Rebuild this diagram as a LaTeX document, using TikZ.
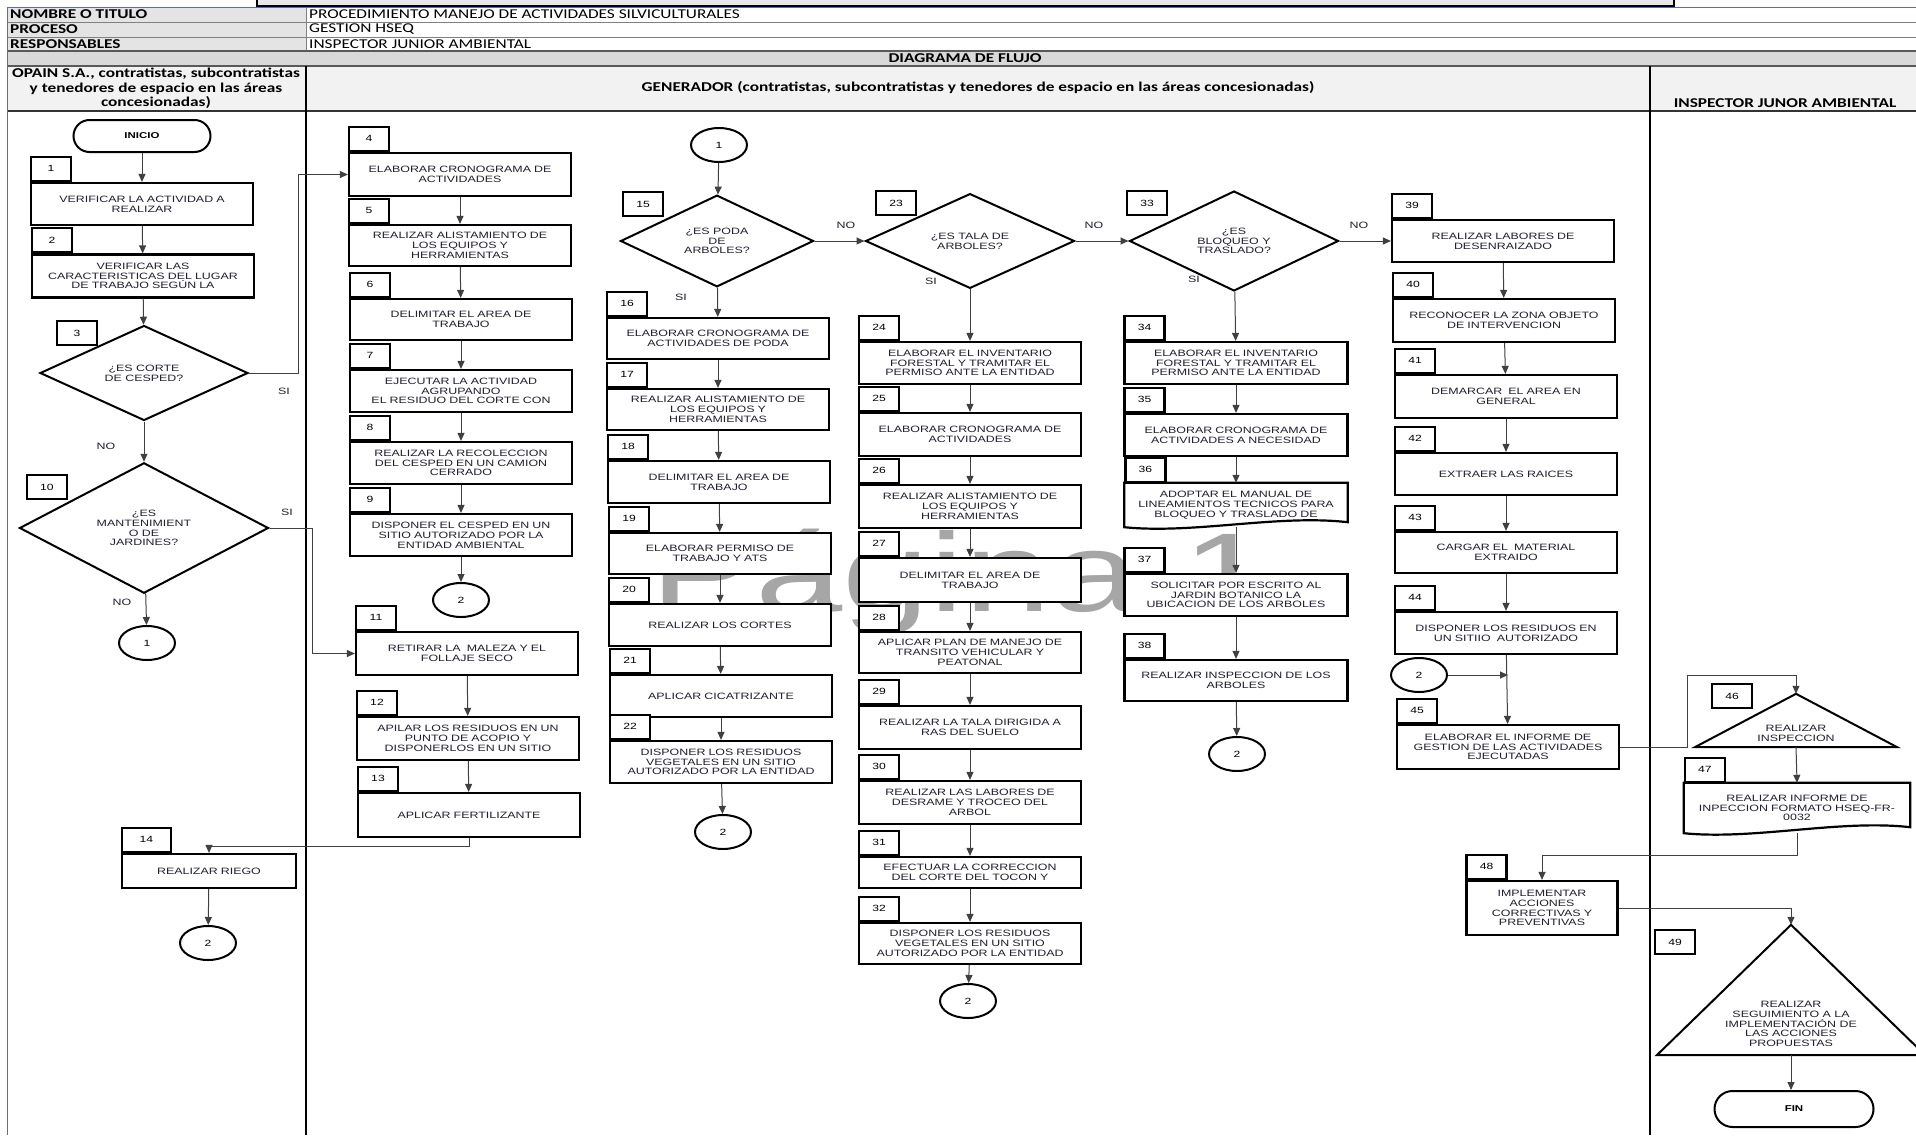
\documentclass[tikz,border=0pt]{standalone}
\usepackage{fontspec}
\setmainfont{Liberation Sans}
\newfontfamily\boxfont[FakeStretch=1.35]{Liberation Sans}
\newfontfamily\headfont[FakeStretch=1.28]{Carlito}
\newfontfamily\markfont[FakeStretch=1.4]{Liberation Sans}
\usetikzlibrary{shapes.geometric,arrows.meta,positioning,calc,backgrounds}
\definecolor{HeadGray}{HTML}{D9D9D9}
\definecolor{CellGray}{HTML}{E4E4E4}
\definecolor{LaneGray}{HTML}{F2F2F2}
\definecolor{EdgeBlue}{HTML}{5B63D6}
\definecolor{InkDark}{HTML}{202030}
\definecolor{MarkGray}{HTML}{A6A6A6}

\begin{document}
\begin{tikzpicture}[x=1pt,y=-1pt,
  stepbox/.style={rectangle,draw=black,line width=2.2pt,fill=white,
    minimum width=222,minimum height=42,inner sep=1pt,text width=218pt,
    align=center,text=InkDark,font=\boxfont\fontsize{9.2}{9.8}\selectfont},
  docbox/.style={rectangle,minimum width=223,minimum height=44,inner sep=1pt,
    text width=218pt,align=center,text=InkDark,
    font=\boxfont\fontsize{9.2}{9.8}\selectfont},
  numtab/.style={rectangle,draw=black,line width=2.2pt,fill=white,
    minimum width=40,minimum height=24,inner sep=0pt,
    font=\boxfont\fontsize{9}{9.8}\selectfont},
  ask/.style={diamond,draw=black,line width=2pt,fill=white,inner sep=0pt,
    align=center,text=InkDark,font=\boxfont\fontsize{9.2}{9.8}\selectfont},
  link/.style={ellipse,draw=black,line width=2pt,fill=white,minimum width=56,
    minimum height=34,inner sep=0pt,font=\boxfont\fontsize{9}{9.8}\selectfont},
  term/.style={rectangle,rounded corners=16pt,draw=black,line width=2pt,
    fill=white,minimum width=137,minimum height=32,
    font=\boxfont\bfseries\fontsize{8.5}{9}\selectfont},
  flag/.style={rectangle,inner sep=0pt},
  ans/.style={inner sep=1pt,text=InkDark,align=center,
    font=\boxfont\fontsize{9.2}{9.8}\selectfont},
  headlbl/.style={inner sep=0pt,align=center,
    font=\headfont\bfseries\fontsize{13.5}{14.5}\selectfont},
  headval/.style={inner sep=0pt,font=\headfont\fontsize{13.5}{14.5}\selectfont},
  arr/.style={-{Triangle[length=8pt,width=7pt]},line width=1pt,black!75}]
\useasboundingbox (0,0) rectangle (1916,1135);
\begin{scope}[on background layer]
\fill[white] (0,0) rectangle (1916,1135);
\node[text=MarkGray,inner sep=0pt,anchor=base,
  font=\markfont\fontsize{112}{112}\selectfont] (wm) at (960,611) {Página 1};
\end{scope}

% header
\filldraw[fill=black!9,line width=1.2pt] (257,-10) rectangle (1674,6);
\fill[CellGray] (7,7) rectangle (306,51);
\fill[HeadGray] (7,51) rectangle (1916,66);
\fill[LaneGray] (7,66) rectangle (1916,111);
\draw[black!50,line width=1pt] (7,22) -- (1916,22) (7,37) -- (1916,37) (306,7) -- (306,51);
\draw[black!65,line width=1.2pt] (7,51) -- (1916,51) (7,66) -- (1916,66);
\draw[black!80,line width=2pt] (7,111) -- (1916,111);
\draw[EdgeBlue,line width=1pt] (7,7) -- (1916,7) (7,7) -- (7,1135);
\draw[line width=2pt] (306,66) -- (306,1135) (1650,66) -- (1650,1135);
\node[headlbl,anchor=west] (hNombre) at (10,14.5) {NOMBRE O TITULO};
\node[headval,anchor=west] (vNombre) at (309,14.5) {PROCEDIMIENTO MANEJO DE ACTIVIDADES SILVICULTURALES};
\node[headlbl,anchor=west] (hProceso) at (10,29.5) {PROCESO};
\node[headval,anchor=west] (vProceso) at (309,29.5) {GESTION HSEQ};
\node[headlbl,anchor=west] (hResp) at (10,44) {RESPONSABLES};
\node[headval,anchor=west] (vResp) at (309,44) {INSPECTOR JUNIOR AMBIENTAL};
\node[headlbl] (hDiagrama) at (965,58.5) {DIAGRAMA DE FLUJO};
\node[headlbl] (hOpain) at (156,88.5) {OPAIN S.A., contratistas, subcontratistas\\
  y tenedores de espacio en las áreas\\concesionadas)};
\node[headlbl] (hGenerador) at (978,88) {GENERADOR (contratistas, subcontratistas y tenedores de espacio en las áreas concesionadas)};
\node[headlbl] (hInspector) at (1785,103) {INSPECTOR JUNOR AMBIENTAL};

% lane 1
\node[term] (inicio) at (142,136) {INICIO};
\node[stepbox] (b1) at (142,204) {VERIFICAR LA ACTIVIDAD A\\REALIZAR};
\node[numtab,anchor=south west] (n1) at (b1.north west) {1};
\node[stepbox,minimum height=43] (b2) at (143,276) {VERIFICAR LAS\\CARACTERISTICAS DEL LUGAR\\DE TRABAJO SEGÚN LA};
\node[numtab,anchor=south west] (n2) at (b2.north west) {2};
\node[ask,minimum width=208,minimum height=93] (d3) at (144,373) {¿ES CORTE\\DE CESPED?};
\node[numtab] (n3) at (77,333) {3};
\node[ask,minimum width=249,minimum height=97] (d10) at (144,528) {¿ES\\MANTENIMIENT\\O DE\\JARDINES?};
\node[numtab] (n10) at (47,487) {10};
\node[link] (c1a) at (147,643) {1};
\node[stepbox,minimum width=174,minimum height=34,text width=168pt] (b14) at (209,871) {REALIZAR RIEGO};
\node[numtab,minimum width=49,anchor=south west] (n14) at (b14.north west) {14};
\node[link] (c2a) at (208,943) {2};
\node[ans] (si3) at (284,391) {SI};
\node[ans] (no3) at (106,446) {NO};
\node[ans] (si10) at (287,512) {SI};
\node[ans] (no10) at (122,602) {NO};

% lane 2, corte de cesped y jardines
\node[stepbox,minimum height=43] (b4) at (460,174.5) {ELABORAR CRONOGRAMA DE\\ACTIVIDADES};
\node[numtab,anchor=south west] (n4) at (b4.north west) {4};
\node[stepbox,minimum height=41] (b5) at (460,245.5) {REALIZAR ALISTAMIENTO DE\\LOS EQUIPOS Y\\HERRAMIENTAS};
\node[numtab,anchor=south west] (n5) at (b5.north west) {5};
\node[stepbox,minimum height=41] (b6) at (461,319.5) {DELIMITAR EL AREA DE\\TRABAJO};
\node[numtab,anchor=south west] (n6) at (b6.north west) {6};
\node[stepbox] (b7) at (461,391) {EJECUTAR LA ACTIVIDAD\\AGRUPANDO\\EL RESIDUO DEL CORTE CON};
\node[numtab,anchor=south west] (n7) at (b7.north west) {7};
\node[stepbox] (b8) at (461,463) {REALIZAR LA RECOLECCION\\DEL CESPED EN UN CAMION\\CERRADO};
\node[numtab,anchor=south west] (n8) at (b8.north west) {8};
\node[stepbox] (b9) at (461,535) {DISPONER EL CESPED EN UN\\SITIO AUTORIZADO POR LA\\ENTIDAD AMBIENTAL};
\node[numtab,anchor=south west] (n9) at (b9.north west) {9};
\node[link] (c2b) at (461,600) {2};
\node[stepbox,minimum height=43] (b11) at (467,653.5) {RETIRAR LA\ \ MALEZA Y EL\\FOLLAJE SECO};
\node[numtab,anchor=south west] (n11) at (b11.north west) {11};
\node[stepbox,minimum height=43] (b12) at (468,738.5) {APILAR LOS RESIDUOS EN UN\\PUNTO DE ACOPIO Y\\DISPONERLOS EN UN SITIO};
\node[numtab,anchor=south west] (n12) at (b12.north west) {12};
\node[stepbox,minimum height=44] (b13) at (469,815) {APLICAR FERTILIZANTE};
\node[numtab,anchor=south west] (n13) at (b13.north west) {13};

% lane 2, poda
\node[link] (c1b) at (719,145) {1};
\node[ask,minimum width=193,minimum height=90] (d15) at (717,241) {¿ES PODA\\DE\\ARBOLES?};
\node[numtab] (n15) at (643,204) {15};
\node[stepbox,minimum height=41] (b16) at (718,338.5) {ELABORAR CRONOGRAMA DE\\ACTIVIDADES DE PODA};
\node[numtab,anchor=south west] (n16) at (b16.north west) {16};
\node[stepbox,minimum height=41] (b17) at (718,409.5) {REALIZAR ALISTAMIENTO DE\\LOS EQUIPOS Y\\HERRAMIENTAS};
\node[numtab,anchor=south west] (n17) at (b17.north west) {17};
\node[stepbox] (b18) at (719,482) {DELIMITAR EL AREA DE\\TRABAJO};
\node[numtab,anchor=south west] (n18) at (b18.north west) {18};
\node[stepbox,minimum height=41] (b19) at (720,553.5) {ELABORAR PERMISO DE\\TRABAJO Y ATS};
\node[numtab,anchor=south west] (n19) at (b19.north west) {19};
\node[stepbox] (b20) at (720,625) {REALIZAR LOS CORTES};
\node[numtab,anchor=south west] (n20) at (b20.north west) {20};
\node[stepbox] (b21) at (721,696) {APLICAR CICATRIZANTE};
\node[numtab,anchor=south west] (n21) at (b21.north west) {21};
\node[stepbox] (b22) at (721,762) {DISPONER LOS RESIDUOS\\VEGETALES EN UN SITIO\\AUTORIZADO POR LA ENTIDAD};
\node[numtab,anchor=south west] (n22) at (b22.north west) {22};
\node[link] (c2c) at (723,832) {2};
\node[ans] (no15) at (846,225) {NO};
\node[ans] (si15) at (681,297) {SI};

% lane 2, tala
\node[ask,minimum width=209,minimum height=94] (d23) at (970,241) {¿ES TALA DE\\ARBOLES?};
\node[numtab] (n23) at (896,203) {23};
\node[stepbox] (b24) at (970,363) {ELABORAR EL INVENTARIO\\FORESTAL Y TRAMITAR EL\\PERMISO ANTE LA ENTIDAD};
\node[numtab,anchor=south west] (n24) at (b24.north west) {24};
\node[stepbox,minimum height=43] (b25) at (970,434.5) {ELABORAR CRONOGRAMA DE\\ACTIVIDADES};
\node[numtab,anchor=south west] (n25) at (b25.north west) {25};
\node[stepbox,minimum height=43] (b26) at (970,506.5) {REALIZAR ALISTAMIENTO DE\\LOS EQUIPOS Y\\HERRAMIENTAS};
\node[numtab,anchor=south west] (n26) at (b26.north west) {26};
\node[stepbox,minimum height=44] (b27) at (970,580) {DELIMITAR EL AREA DE\\TRABAJO};
\node[numtab,anchor=south west] (n27) at (b27.north west) {27};
\node[stepbox,minimum height=41] (b28) at (970,652.5) {APLICAR PLAN DE MANEJO DE\\TRANSITO VEHICULAR Y\\PEATONAL};
\node[numtab,anchor=south west] (n28) at (b28.north west) {28};
\node[stepbox,minimum height=43] (b29) at (970,727.5) {REALIZAR LA TALA DIRIGIDA A\\RAS DEL SUELO};
\node[numtab,anchor=south west] (n29) at (b29.north west) {29};
\node[stepbox,minimum height=43] (b30) at (970,802.5) {REALIZAR LAS LABORES DE\\DESRAME Y TROCEO DEL\\ARBOL};
\node[numtab,anchor=south west] (n30) at (b30.north west) {30};
\node[stepbox,minimum height=31] (b31) at (970,872.5) {EFECTUAR LA CORRECCION\\DEL CORTE DEL TOCON Y};
\node[numtab,anchor=south west] (n31) at (b31.north west) {31};
\node[stepbox,minimum height=41] (b32) at (970,943.5) {DISPONER LOS RESIDUOS\\VEGETALES EN UN SITIO\\AUTORIZADO POR LA ENTIDAD};
\node[numtab,anchor=south west] (n32) at (b32.north west) {32};
\node[link] (c2d) at (968,1001) {2};
\node[ans] (si23) at (931,281) {SI};
\node[ans] (no23) at (1094,225) {NO};

% lane 2, bloqueo y traslado
\node[ask,minimum width=209,minimum height=89] (d33) at (1234,241) {¿ES\\BLOQUEO Y\\TRASLADO?};
\node[numtab] (n33) at (1147,203) {33};
\node[stepbox,minimum width=223] (b34) at (1236,363) {ELABORAR EL INVENTARIO\\FORESTAL Y TRAMITAR EL\\PERMISO ANTE LA ENTIDAD};
\node[numtab,anchor=south west] (n34) at (b34.north west) {34};
\node[stepbox,minimum width=223] (b35) at (1236,435) {ELABORAR CRONOGRAMA DE\\ACTIVIDADES A NECESIDAD};
\node[numtab,anchor=south west] (n35) at (b35.north west) {35};
\node[docbox] (b36) at (1236,505) {ADOPTAR EL MANUAL DE\\LINEAMIENTOS TECNICOS PARA\\BLOQUEO Y TRASLADO DE};
\begin{scope}[on background layer]
\filldraw[fill=white,line width=2.2pt] (b36.north west) -- (b36.north east)
  -- ([yshift=5pt]b36.south east) .. controls ([xshift=-70pt,yshift=13pt]b36.south east)
  and ([xshift=70pt,yshift=-7pt]b36.south west) .. (b36.south west) -- cycle;
\end{scope}
\node[numtab,anchor=south west] (n36) at (b36.north west) {36};
\node[stepbox,minimum width=223] (b37) at (1236,595) {SOLICITAR POR ESCRITO AL\\JARDIN BOTANICO LA\\UBICACION DE LOS ARBOLES};
\node[numtab,anchor=south west] (n37) at (b37.north west) {37};
\node[stepbox,minimum width=223,minimum height=41] (b38) at (1236,680.5) {REALIZAR INSPECCION DE LOS\\ARBOLES};
\node[numtab,anchor=south west] (n38) at (b38.north west) {38};
\node[link] (c2e) at (1237,754) {2};
\node[ans] (si33) at (1194,279) {SI};
\node[ans] (no33) at (1359,225) {NO};

% lane 2, desenraizado
\node[stepbox] (b39) at (1503,241) {REALIZAR LABORES DE\\DESENRAIZADO};
\node[numtab,anchor=south west] (n39) at (b39.north west) {39};
\node[stepbox,minimum height=43] (b40) at (1504,320.5) {RECONOCER LA ZONA OBJETO\\DE INTERVENCION};
\node[numtab,anchor=south west] (n40) at (b40.north west) {40};
\node[stepbox,minimum height=43] (b41) at (1506,396.5) {DEMARCAR\ \ EL AREA EN\\GENERAL};
\node[numtab,anchor=south west] (n41) at (b41.north west) {41};
\node[stepbox] (b42) at (1506,474) {EXTRAER LAS RAICES};
\node[numtab,anchor=south west] (n42) at (b42.north west) {42};
\node[stepbox,minimum height=41] (b43) at (1506,552.5) {CARGAR EL\ \ MATERIAL\\EXTRAIDO};
\node[numtab,anchor=south west] (n43) at (b43.north west) {43};
\node[stepbox] (b44) at (1506,633) {DISPONER LOS RESIDUOS EN\\UN SITIIO\ \ AUTORIZADO};
\node[numtab,anchor=south west] (n44) at (b44.north west) {44};
\node[link] (c2f) at (1419,675) {2};
\node[stepbox,minimum height=44] (b45) at (1508,747) {ELABORAR EL INFORME DE\\GESTION DE LAS ACTIVIDADES\\EJECUTADAS};
\node[numtab,anchor=south west] (n45) at (b45.north west) {45};

% lane 3
\node[flag,minimum width=202,minimum height=53] (s46) at (1796,720.5) {};
\draw[line width=2pt] (s46.north) -- (s46.south east) -- (s46.south west) -- cycle;
\node[ans] (s46t) at (1796,733) {REALIZAR\\INSPECCION};
\node[numtab] (n46) at (1732,696) {46};
\node[docbox,minimum width=226,minimum height=50,text width=220pt] (b47) at (1797,808) {REALIZAR INFORME DE\\INPECCION FORMATO HSEQ-FR-\\0032};
\begin{scope}[on background layer]
\filldraw[fill=white,line width=2.2pt] (b47.north west) -- (b47.north east)
  -- ([yshift=6pt]b47.south east) .. controls ([xshift=-70pt,yshift=14pt]b47.south east)
  and ([xshift=70pt,yshift=-7pt]b47.south west) .. (b47.south west) -- cycle;
\end{scope}
\node[numtab,anchor=south west] (n47) at (b47.north west) {47};
\node[stepbox,minimum width=151,minimum height=54,text width=145pt] (b48) at (1542,908) {IMPLEMENTAR\\ACCIONES\\CORRECTIVAS Y\\PREVENTIVAS};
\node[numtab,anchor=south west] (n48) at (b48.north west) {48};
\node[flag,minimum width=268,minimum height=130] (s49) at (1791,990) {};
\draw[line width=2pt] (s49.north) -- (s49.south east) -- (s49.south west) -- cycle;
\node[ans] (s49t) at (1791,1024) {REALIZAR\\SEGUIMIENTO A LA\\IMPLEMENTACIÓN DE\\LAS ACCIONES\\PROPUESTAS};
\node[numtab] (n49) at (1675,942) {49};
\node[term,minimum width=159,minimum height=36,rounded corners=18pt] (fin) at (1794,1109) {FIN};

% connectors
\draw[arr] (inicio) -- (b1);
\draw[arr] (b1) -- (b2);
\draw[arr] (b2) -- (d3);
\draw[arr] (d3.east) -- ++(49,0) |- (b4.west);
\draw[arr] (d3) -- (d10);
\draw[arr] (d10.east) -- ++(43,0) |- (b11.west);
\draw[arr] (d10) -- (c1a);
\draw[arr] (b13.south) -- ++(0,8) -| (b14.north);
\draw[arr] (b14) -- (c2a);
\draw[arr] (b4) -- (b5);
\draw[arr] (b5) -- (b6);
\draw[arr] (b6) -- (b7);
\draw[arr] (b7) -- (b8);
\draw[arr] (b8) -- (b9);
\draw[arr] (b9) -- (c2b);
\draw[arr] (b11) -- (b12);
\draw[arr] (b12) -- (b13);
\draw[arr] (c1b) -- (d15);
\draw[arr] (d15) -- (d23);
\draw[arr] (d15) -- (b16);
\draw[arr] (b16) -- (b17);
\draw[arr] (b17) -- (b18);
\draw[arr] (b18) -- (b19);
\draw[arr] (b19) -- (b20);
\draw[arr] (b20) -- (b21);
\draw[arr] (b21) -- (b22);
\draw[arr] (b22) -- (c2c);
\draw[arr] (d23) -- (d33);
\draw[arr] (d23) -- (b24);
\draw[arr] (b24) -- (b25);
\draw[arr] (b25) -- (b26);
\draw[arr] (b26) -- (b27);
\draw[arr] (b27) -- (b28);
\draw[arr] (b28) -- (b29);
\draw[arr] (b29) -- (b30);
\draw[arr] (b30) -- (b31);
\draw[arr] (b31) -- (b32);
\draw[arr] (b32) -- (c2d);
\draw[arr] (d33) -- (b39);
\draw[arr] (d33) -- (b34);
\draw[arr] (b34) -- (b35);
\draw[arr] (b35) -- (b36);
\draw[arr] (b36) -- (b37);
\draw[arr] (b37) -- (b38);
\draw[arr] (b38) -- (c2e);
\draw[arr] (b39) -- (b40);
\draw[arr] (b40) -- (b41);
\draw[arr] (b41) -- (b42);
\draw[arr] (b42) -- (b43);
\draw[arr] (b43) -- (b44);
\draw[arr] (b44) -- (b45);
\draw[arr] (c2f) -- (c2f -| b45.north);
\draw[arr] (b45.east) -- ++(67,0) -- ++(0,-72) -| (s46.north);
\draw[arr] (s46.south) -- (b47.north);
\draw[arr] (b47.south) -- ++(0,22) -| (b48.north);
\draw[arr] (b48.east) -| (s49.north);
\draw[arr] (s49.south) -- (s49.south |- fin.north);
\end{tikzpicture}
\end{document}
